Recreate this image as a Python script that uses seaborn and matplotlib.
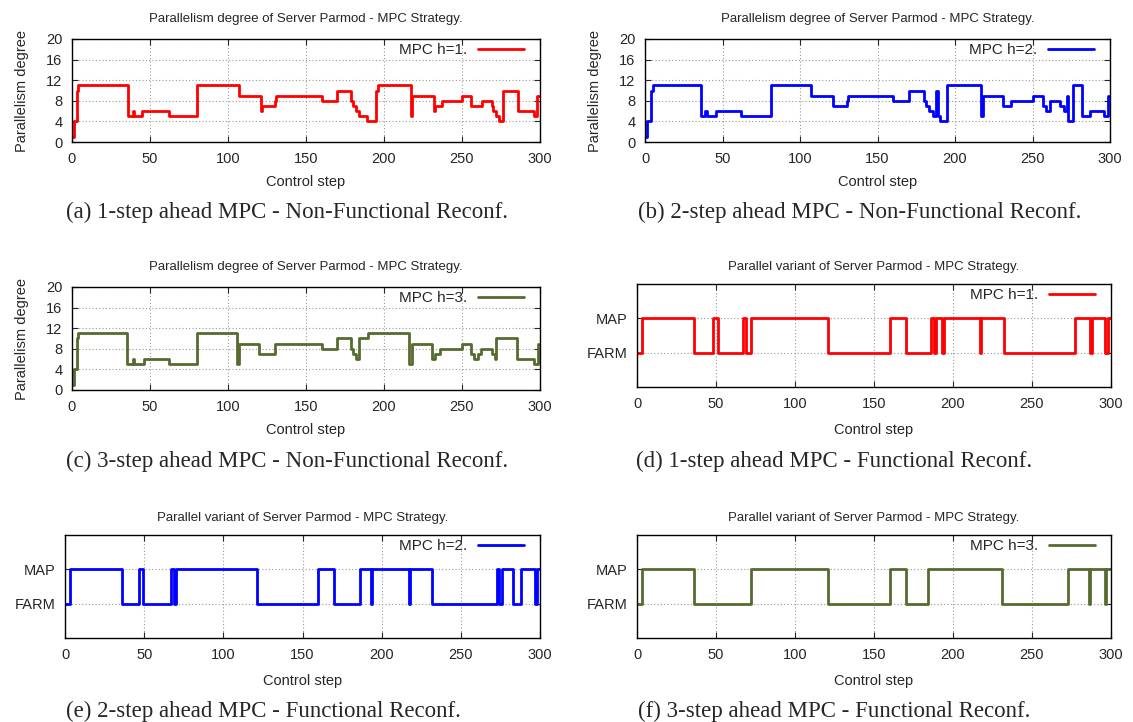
import numpy as np
import pandas as pd
import matplotlib
matplotlib.use("Agg")
import matplotlib.pyplot as plt
import seaborn as sns

# ---- data: step-change points (control step) and values ----
a_steps = [0, 1, 3, 4, 36, 39, 40, 45, 62, 80, 107, 121, 122, 130, 131, 160, 170, 179, 180, 182, 184, 189,
           195, 196, 217, 218, 232, 233, 237, 250, 256, 263, 269, 270, 272, 274, 276, 286, 296, 298]
a_vals = [1, 4, 10, 11, 5, 6, 5, 6, 5, 11, 9, 6, 7, 8, 9, 8, 10, 8, 7, 6, 5, 4,
          10, 11, 5, 9, 6, 7, 8, 9, 7, 8, 7, 6, 5, 4, 10, 6, 5, 9]

b_steps = [0, 1, 4, 5, 36, 39, 40, 46, 62, 81, 107, 121, 130, 131, 160, 170, 180, 181, 183, 186, 188, 189,
           190, 195, 217, 218, 231, 236, 250, 257, 259, 261, 268, 270, 272, 273, 276, 282, 287, 296, 299]
b_vals = [1, 4, 10, 11, 5, 6, 5, 6, 5, 11, 9, 7, 8, 9, 8, 10, 8, 7, 6, 5, 10, 5,
          4, 11, 5, 9, 7, 8, 9, 7, 6, 8, 7, 6, 9, 4, 11, 5, 6, 5, 9]

c_steps = [0, 1, 3, 4, 35, 39, 40, 46, 62, 80, 106, 107, 120, 130, 160, 170, 179, 180, 182, 184, 190,
           216, 218, 231, 233, 236, 250, 256, 258, 260, 262, 269, 271, 272, 285, 296, 299]
c_vals = [1, 4, 10, 11, 5, 6, 5, 6, 5, 11, 5, 9, 7, 9, 8, 10, 8, 7, 6, 10, 11,
          5, 9, 6, 7, 8, 9, 7, 6, 7, 8, 7, 6, 10, 6, 5, 9]

# FARM = 0, MAP = 1
d_steps = [0, 3, 36, 48, 51, 67, 69, 72, 121, 160, 170, 186, 188, 189, 193, 194, 217, 218, 232, 277, 287,
           288, 296, 298]
d_vals = [0, 1, 0, 1, 0, 1, 0, 1, 0, 1, 0, 1, 0, 1, 0, 1, 0, 1, 0, 1, 0,
          1, 0, 1]

e_steps = [0, 3, 36, 47, 49, 67, 69, 70, 121, 160, 170, 186, 193, 194, 217, 218, 232, 273, 274, 276, 283,
           288, 297, 298]
e_vals = [0, 1, 0, 1, 0, 1, 0, 1, 0, 1, 0, 1, 0, 1, 0, 1, 0, 1, 0, 1, 0,
          1, 0, 1]

f_steps = [0, 3, 36, 72, 121, 160, 170, 184, 231, 273, 286, 287, 296, 297]
f_vals = [0, 1, 0, 1, 0, 1, 0, 1, 0, 1, 0, 1, 0, 1]

ytick_par = [0, 4, 8, 12, 16, 20]
variant_labels = ["FARM", "MAP"]
xticks = [0, 50, 100, 150, 200, 250, 300]

title_par = "Parallelism degree of Server Parmod - MPC Strategy."
title_var = "Parallel variant of Server Parmod - MPC Strategy."
captions = ["(a) 1-step ahead MPC - Non-Functional Reconf.",
            "(b) 2-step ahead MPC - Non-Functional Reconf.",
            "(c) 3-step ahead MPC - Non-Functional Reconf.",
            "(d) 1-step ahead MPC - Functional Reconf.",
            "(e) 2-step ahead MPC - Functional Reconf.",
            "(f) 3-step ahead MPC - Functional Reconf."]
legend_labels = ["MPC h=1.", "MPC h=2.", "MPC h=3.", "MPC h=1.", "MPC h=2.", "MPC h=3."]

RED, BLUE, GREEN = "#ff0000", "#0000ff", "#556b2f"
colors = [RED, BLUE, GREEN, RED, BLUE, GREEN]

sns.set_style("ticks")
plt.rcParams["font.family"] = ["Liberation Sans", "DejaVu Sans"]

W, H = 1133, 722
fig = plt.figure(figsize=(W / 100, H / 100), dpi=100)

# pixel boxes: left, right, top, bottom
boxes = [(72, 540, 39, 142), (645, 1110, 39, 142),
         (72, 540, 287, 390), (637, 1111, 284, 387),
         (65, 540, 535, 638), (637, 1111, 535, 638)]
cap_y = [212, 212, 461, 461, 711, 711]
cap_x = [287, 860, 287, 834, 263, 834]

series = [(a_steps, a_vals), (b_steps, b_vals), (c_steps, c_vals),
          (d_steps, d_vals), (e_steps, e_vals), (f_steps, f_vals)]

for i, ((l, r, t, b), (st, vv)) in enumerate(zip(boxes, series)):
    ax = fig.add_axes([l / W, 1 - b / H, (r - l) / W, (b - t) / H])
    xs = list(st) + [300]
    ys = list(vv) + [vv[-1]]
    df = pd.DataFrame({"step": xs, "val": ys})
    sns.lineplot(data=df, x="step", y="val", ax=ax, color=colors[i], lw=2.0,
                 drawstyle="steps-post", estimator=None, sort=False,
                 label=legend_labels[i])
    ax.set_xlim(0, 300)
    ax.set_xticks(xticks)
    if i < 3:
        ax.set_ylim(0, 20)
        ax.set_yticks(ytick_par)
        ax.set_ylabel("Parallelism degree", fontsize=10.5, labelpad=12)
        ax.set_title(title_par, fontsize=9.5, pad=12)
    else:
        ax.set_ylim(-1, 2)
        ax.set_yticks([0, 1])
        ax.set_yticklabels(variant_labels)
        ax.set_ylabel("")
        ax.set_title(title_var, fontsize=9.5, pad=10)
    ax.set_xlabel("Control step", fontsize=10.5, labelpad=7 if i < 3 else 9)
    ax.grid(True, color="#999999", linestyle=(0, (1, 2)), linewidth=0.8)
    ax.tick_params(direction="in", top=True, right=True, labelsize=10.5, length=4)
    ax.tick_params(axis="x", pad=7)
    ax.tick_params(axis="y", pad=7)
    for sp in ax.spines.values():
        sp.set_visible(True)
        sp.set_linewidth(1.0)
        sp.set_color("black")
    leg = ax.legend(loc="upper right", frameon=False, markerfirst=False,
                    handlelength=3.0, handletextpad=0.7, fontsize=11,
                    bbox_to_anchor=(1 - 16 / (r - l), 1 - 4 / (b - t)), borderaxespad=0, borderpad=0)
    fig.text(cap_x[i] / W, 1 - cap_y[i] / H, captions[i], ha="center", va="center",
             fontsize=16.5, family=["Liberation Serif", "DejaVu Serif"])

fig.savefig("out.png", dpi=100)
